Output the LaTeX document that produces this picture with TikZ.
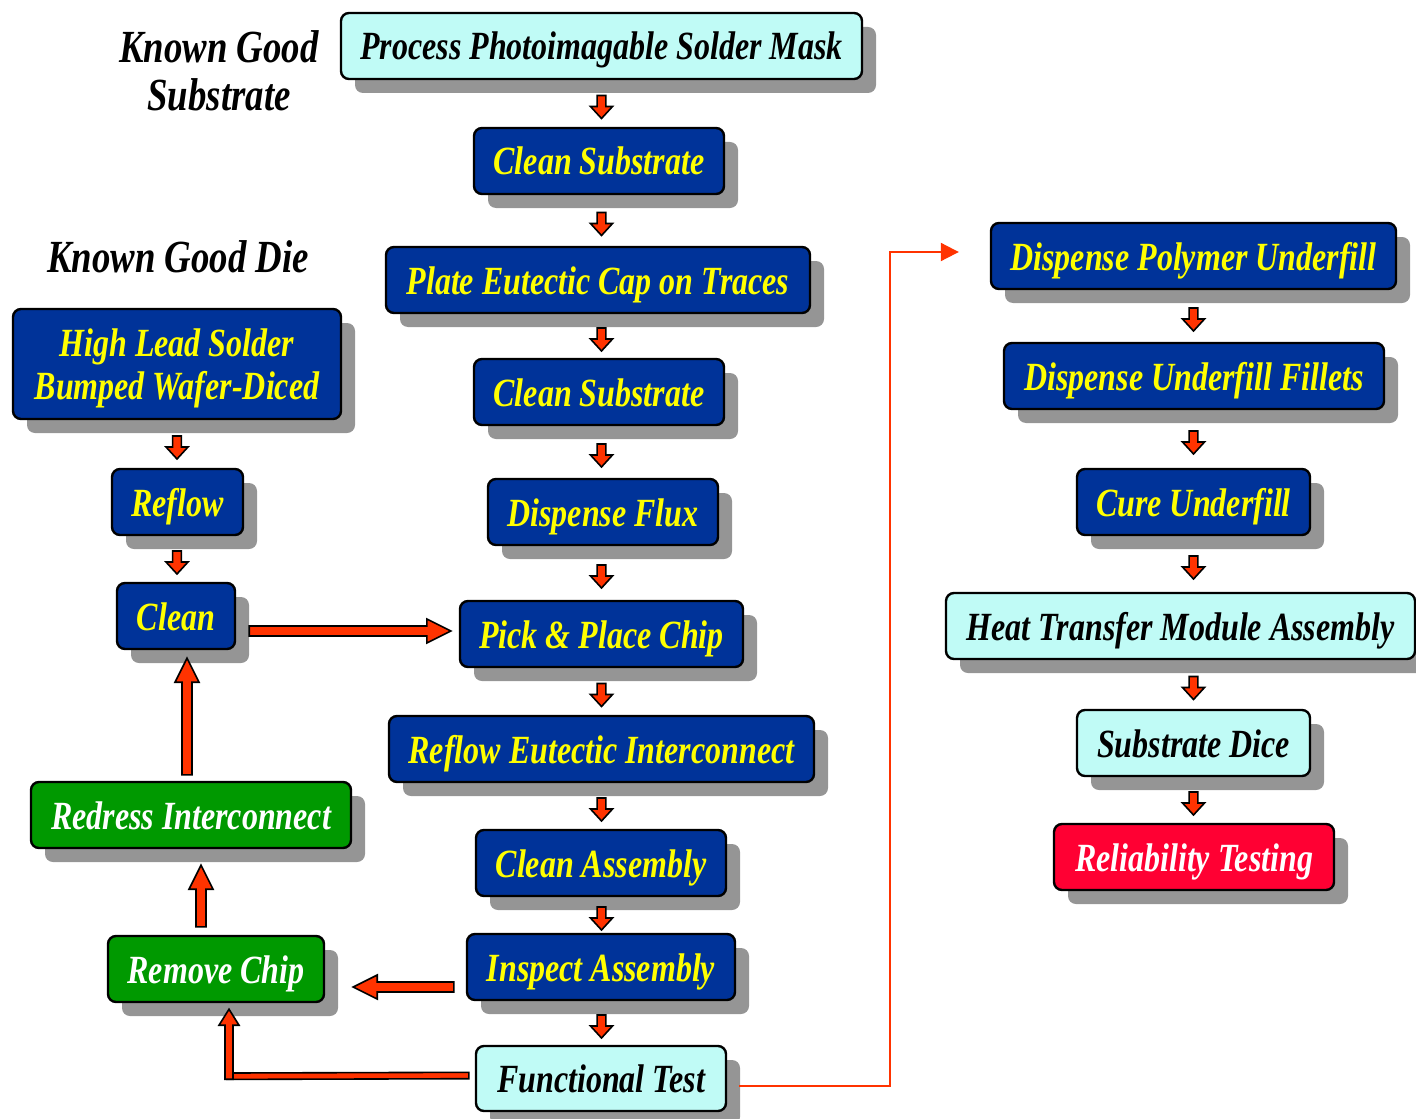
\documentclass[tikz,border=0pt]{standalone}
\usepackage{fontspec}
\setmainfont{Liberation Serif}[FakeStretch=0.8]
\usetikzlibrary{calc,shadows,arrows.meta,positioning}

\definecolor{stepblue}{HTML}{003399}
\definecolor{stepcyan}{HTML}{C0FBF6}
\definecolor{stepgreen}{HTML}{009900}
\definecolor{stepred}{HTML}{FF0033}
\definecolor{textyellow}{HTML}{FFFF00}
\definecolor{arrowred}{HTML}{FF3300}
\definecolor{shadowgray}{HTML}{959595}

\newcommand{\boxfont}{\fontsize{20}{21.5}\selectfont\bfseries\itshape}
\newcommand{\titlefont}{\fontsize{23}{24}\selectfont\bfseries\itshape}

\tikzset{
	procbox/.style={draw=black, line width=1.2pt, rounded corners=4pt,
		minimum height=33pt, inner xsep=4pt, font=\boxfont,
		text height=14pt, text depth=0pt,
		drop shadow={shadow xshift=7pt, shadow yshift=-7pt, fill=shadowgray, opacity=1}},
	bluestep/.style={procbox, fill=stepblue, text=textyellow},
	cyanstep/.style={procbox, fill=stepcyan, text=black},
	greenstep/.style={procbox, fill=stepgreen, text=white},
	redstep/.style={procbox, fill=stepred, text=white},
	steptitle/.style={font=\titlefont, align=center},
	arrowfill/.style={draw=black, line width=0.8pt, fill=arrowred, line join=miter},
	feedline/.style={draw=arrowred, line width=1pt, -{Triangle[length=9pt,width=9pt]}}
}

% block arrow: half shaft, half head, head length, from, to
\newcommand{\blockarrow}[5]{%
	\path[arrowfill] let \p1=(#4), \p2=(#5),
		\n1={veclen((\x2)-(\x1),(\y2)-(\y1))},
		\n2={((\x2)-(\x1))/(\n1)}, \n3={((\y2)-(\y1))/(\n1)}
	in ({(\x1)-(\n3)*(#1)},{(\y1)+(\n2)*(#1)})
	-- ({(\x1)+(\n2)*((\n1)-(#3))-(\n3)*(#1)},{(\y1)+(\n3)*((\n1)-(#3))+(\n2)*(#1)})
	-- ({(\x1)+(\n2)*((\n1)-(#3))-(\n3)*(#2)},{(\y1)+(\n3)*((\n1)-(#3))+(\n2)*(#2)})
	-- (\x2,\y2)
	-- ({(\x1)+(\n2)*((\n1)-(#3))+(\n3)*(#2)},{(\y1)+(\n3)*((\n1)-(#3))-(\n2)*(#2)})
	-- ({(\x1)+(\n2)*((\n1)-(#3))+(\n3)*(#1)},{(\y1)+(\n3)*((\n1)-(#3))-(\n2)*(#1)})
	-- ({(\x1)+(\n3)*(#1)},{(\y1)-(\n2)*(#1)}) -- cycle;}

\begin{document}
\begin{tikzpicture}[x=0.5pt, y=-0.5pt]
	\useasboundingbox (0,0) rectangle (1416,1118);
	
	\node[steptitle] (kgs) at (219,71) {Known Good\\Substrate};
	\node[steptitle] (kgd) at (178,257) {Known Good Die};
	
	% substrate column
	\node[cyanstep, minimum width=260.5pt] (ps) at (601.5,46) {Process Photoimagable Solder Mask};
	\node[bluestep, minimum width=125pt] (cs1) at (599,161) {Clean Substrate};
	\node[bluestep, minimum width=212pt] (plate) at (598,280) {Plate Eutectic Cap on Traces};
	\node[bluestep, minimum width=125pt] (cs2) at (599,392) {Clean Substrate};
	\node[bluestep, minimum width=115pt] (flux) at (603,512) {Dispense Flux};
	\node[bluestep, minimum width=141.5pt] (pick) at (601.5,634) {Pick \& Place Chip};
	\node[bluestep, minimum width=212.5pt] (reflowE) at (601.5,749) {Reflow Eutectic Interconnect};
	\node[bluestep, minimum width=125pt] (cleanA) at (601,863) {Clean Assembly};
	\node[bluestep, minimum width=134pt] (inspect) at (601,967) {Inspect Assembly};
	\node[cyanstep, minimum width=125pt, minimum height=32.5pt] (func) at (601,1078.5) {Functional Test};
	
	% die column
	\node[bluestep, minimum width=164pt, minimum height=55pt, align=center, text height=, text depth=] (hls) at (177,364) {\rule{0pt}{18pt}High Lead Solder\\Bumped Wafer-Diced};
	\node[bluestep, minimum width=65.5pt] (reflow) at (177.5,502) {Reflow};
	\node[bluestep, minimum width=59pt] (clean) at (176,616) {Clean};
	\node[greenstep, minimum width=160pt] (redress) at (191,815) {Redress Interconnect};
	\node[greenstep, minimum width=108pt] (remove) at (216,969) {Remove Chip};
	
	% underfill column
	\node[bluestep, minimum width=202.5pt] (dpu) at (1193.5,256) {Dispense Polymer Underfill};
	\node[bluestep, minimum width=190pt] (duf) at (1194,376) {Dispense Underfill Fillets};
	\node[bluestep, minimum width=116.5pt] (cure) at (1193.5,502) {Cure Underfill};
	\node[cyanstep, minimum width=234.5pt] (htm) at (1180.5,626) {Heat Transfer Module Assembly};
	\node[cyanstep, minimum width=116.5pt] (dice) at (1193.5,743) {Substrate Dice};
	\node[redstep, minimum width=140pt] (rel) at (1194,857) {Reliability Testing};
	
	% small step arrows
	\foreach \a/\b in {ps/cs1, cs1/plate, plate/cs2, cs2/flux, flux/pick, pick/reflowE, reflowE/cleanA, cleanA/inspect, inspect/func}
		\blockarrow{2.2pt}{5.5pt}{6pt}{$(\a.south -| ps.south)!0.5!(\b.north -| ps.south)+(0,-8)$}{$(\a.south -| ps.south)!0.5!(\b.north -| ps.south)+(0,15)$};
	\foreach \a/\b in {hls/reflow, reflow/clean}
		\blockarrow{2.2pt}{5.5pt}{6pt}{$(\a.south -| hls.south)!0.5!(\b.north -| hls.south)+(0,-8)$}{$(\a.south -| hls.south)!0.5!(\b.north -| hls.south)+(0,15)$};
	\foreach \a/\b in {dpu/duf, duf/cure, cure/htm, htm/dice, dice/rel}
		\blockarrow{2.2pt}{5.5pt}{6pt}{$(\a.south -| dpu.south)!0.5!(\b.north -| dpu.south)+(0,-8)$}{$(\a.south -| dpu.south)!0.5!(\b.north -| dpu.south)+(0,15)$};
	
	% rework loop
	\blockarrow{2.5pt}{6pt}{12pt}{$(clean.east |- pick.west)+(13,-3)$}{$(pick.west)+(-8,-3)$};
	\blockarrow{2.5pt}{6pt}{12pt}{$(redress.north -| clean.south)+(11,-6)$}{$(clean.south)+(11,8)$};
	\blockarrow{2.5pt}{6pt}{12pt}{$(remove.north)+(-15,-8)$}{$(redress.south -| remove.north)+(-15,16)$};
	\blockarrow{2.5pt}{6pt}{12pt}{$(inspect.west)+(-12,20)$}{$(remove.east |- inspect.west)+(28,20)$};
	\coordinate (fbend) at ($(remove.south)+(13,73)$);
	\blockarrow{1.6pt}{1.6pt}{0pt}{$(func.west)+(-6,-3)$}{$(fbend)+(-2,0)$};
	\blockarrow{2pt}{5pt}{8pt}{$(fbend)+(0,3)$}{$(remove.south)+(13,6)$};
	
	% to underfill
	\draw[feedline] ($(func.east)+(12,7)$) -| ($(dpu.west)+(-100,-4)$) -- ($(dpu.west)+(-31,-4)$);
\end{tikzpicture}
\end{document}
